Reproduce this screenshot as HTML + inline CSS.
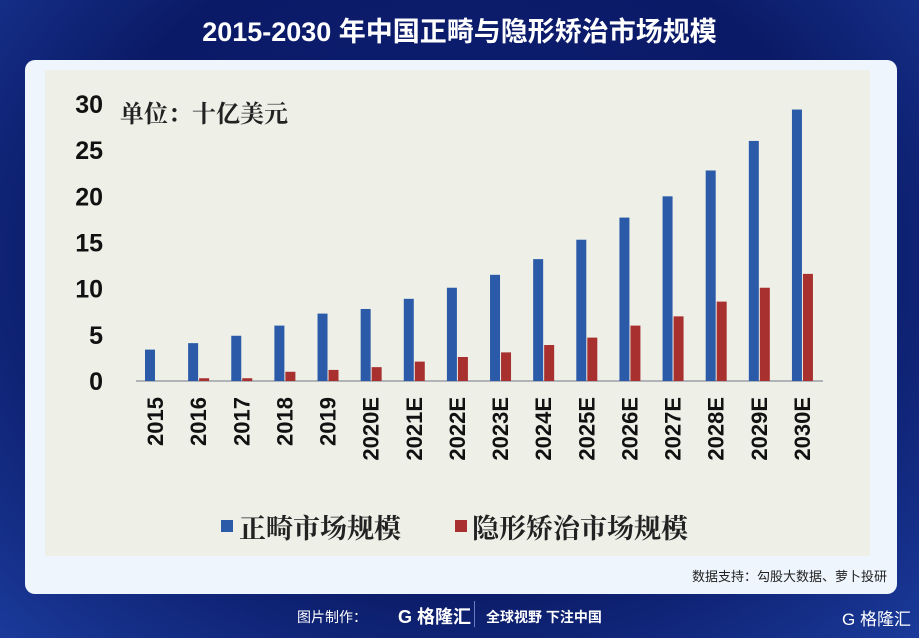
<!DOCTYPE html>
<html><head><meta charset="utf-8">
<style>
html,body{margin:0;padding:0;}
body{width:919px;height:638px;overflow:hidden;position:relative;
background:radial-gradient(ellipse at 50% 40%,#0d1f78 0%,#0b1a66 60%,#1a3a9a 100%);
font-family:"Liberation Sans","Noto Sans CJK SC",sans-serif;}
#title{position:absolute;left:0;top:10px;width:919px;text-align:center;color:#fff;font-size:27px;font-weight:bold;}
#card{position:absolute;left:25px;top:60px;width:872px;height:534px;background:#eef5fd;border-radius:10px;}
#src{position:absolute;right:32px;top:566px;font-size:13px;color:#222;}
#foot{position:absolute;left:0;top:605px;width:919px;height:26px;color:#fff;font-size:14px;}
</style></head><body>
<div id="title">2015-2030 年中国正畸与隐形矫治市场规模</div>
<div id="card"></div>
<svg id="chart" width="919" height="638" style="position:absolute;left:0;top:0">
<rect x="45" y="70" width="825" height="486" fill="#eef0e8"/>
<g id="marks"></g>
</svg>
<div id="src">数据支持：勾股大数据、萝卜投研</div>
<div id="foot">
<span style="position:absolute;left:297px;top:2px;">图片制作：</span>
<span style="position:absolute;left:398px;top:-2px;font-weight:bold;font-size:18px;">G 格隆汇</span>
<span style="position:absolute;left:474px;top:-4px;width:1px;height:26px;background:#6a7bc0;"></span>
<span style="position:absolute;left:486px;top:2px;font-weight:bold;">全球视野 下注中国</span>
<span style="position:absolute;left:842px;top:0px;font-size:17px;">G 格隆汇</span>
</div>
<script>
const categories=["2015","2016","2017","2018","2019","2020E","2021E","2022E","2023E","2024E","2025E","2026E","2027E","2028E","2029E","2030E"];
const orthoValues=[3.4,4.1,4.9,6.0,7.3,7.8,8.9,10.1,11.5,13.2,15.3,17.7,20.0,22.8,26.0,29.4];
const clearValues=[0,0.3,0.3,1.0,1.2,1.5,2.1,2.6,3.1,3.9,4.7,6.0,7.0,8.6,10.1,11.6];
const yTicks=[0,5,10,15,20,25,30];
const NS="http://www.w3.org/2000/svg";
const g=document.getElementById('marks');
const y0=381,pxPerUnit=(381-104)/30;
function yScale(v){return y0-v*pxPerUnit;}
function xScale(i){return 150+i*43.13;}
function mk(tag,attrs){const e=document.createElementNS(NS,tag);for(const k in attrs)e.setAttribute(k,attrs[k]);g.appendChild(e);return e;}
yTicks.forEach(t=>{
  const e=mk('text',{x:103,y:yScale(t)+9,'text-anchor':'end','font-size':'25','font-weight':'bold',fill:'#111'});
  e.textContent=t;
  
  
});
const u=mk('text',{x:120,y:122,'font-size':'24','font-weight':'bold',fill:'#222','font-family':'"Noto Serif CJK SC",serif'});
u.textContent='单位：十亿美元';


const ax=mk('line',{x1:136,x2:823,y1:381,y2:381,stroke:'#b0b4b8','stroke-width':2});


categories.forEach((c,i)=>{
  const cx=xScale(i);
  const b=mk('rect',{x:cx-5,y:yScale(orthoValues[i]),width:10,height:orthoValues[i]*pxPerUnit,fill:'#2a5aa8'});
  
  
  const r=mk('rect',{x:cx+6,y:yScale(clearValues[i]),width:10,height:clearValues[i]*pxPerUnit,fill:'#a8302f'});
  
  
  const t=mk('text',{x:0,y:0,transform:'translate('+(cx+13)+',397) rotate(-90)','text-anchor':'end','font-size':'22','font-weight':'bold',fill:'#111'});
  t.textContent=c;
  
  
});
const l1=mk('rect',{x:221,y:520,width:12,height:12,fill:'#2a5aa8'});


const lt1=mk('text',{x:239,y:538,'font-size':'27','font-weight':'bold',fill:'#222','font-family':'"Noto Serif CJK SC",serif'});
lt1.textContent='正畸市场规模';


const l2=mk('rect',{x:455,y:520,width:12,height:12,fill:'#a8302f'});


const lt2=mk('text',{x:472,y:538,'font-size':'27','font-weight':'bold',fill:'#222','font-family':'"Noto Serif CJK SC",serif'});
lt2.textContent='隐形矫治市场规模';


</script>
</body></html>
